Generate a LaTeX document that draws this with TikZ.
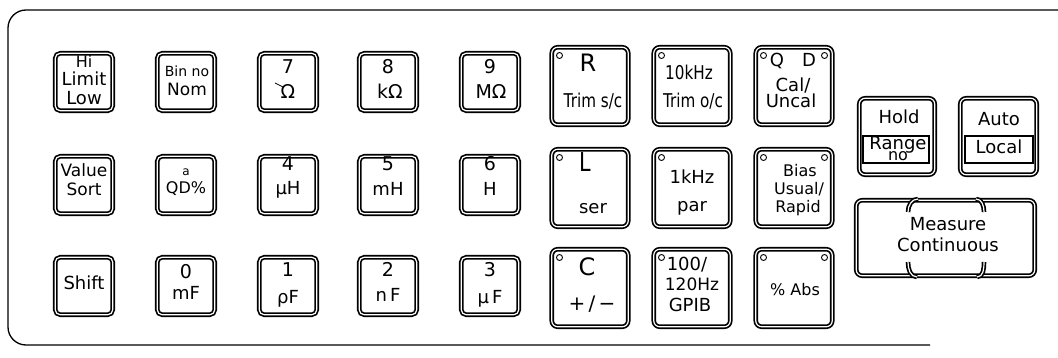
\documentclass[tikz,border=0pt]{standalone}
\usepackage{fontspec}
\usepackage{graphicx}
\setmainfont{DejaVu Sans}
\newcommand{\narrow}[1]{\scalebox{0.8}[1]{#1}}
\tikzset{
  key/.style={draw, double, line width=1.7pt, double distance=1.2pt, rounded corners=5pt, inner sep=0pt},
  smallkey/.style={key, minimum width=57.5pt, minimum height=57.5pt},
  bigkey/.style={key, minimum width=76.5pt, minimum height=77.5pt, rounded corners=6pt},
  lbl/.style={inner sep=0pt, text height=.73em, text depth=0pt, font=\fontsize{#1}{#1}\selectfont},
  lbl/.default=18,
  lamp/.style={line width=0.9pt},
}
\begin{document}
\begin{tikzpicture}[x=1pt,y=-1pt]
  \useasboundingbox (0,0) rectangle (1058,358);
  % panel outline
  \draw [line width=1.3pt, rounded corners=18pt] (1058,10) -- (8,10) -- (8,345) -- (930,345);
  % number block
  \foreach \n/\x/\y in {hi/84/82, bin/186/82, k7/288/82, k8/388/82, k9/490/82,
                        val/84/185, qd/186/185, k4/288/185, k5/388/185, k6/490/185,
                        shift/84/286, k0/186/286, k1/288/286, k2/388/286, k3/490/286}
    \node [smallkey] (\n) at (\x,\y) {};
  % function block
  \foreach \n/\x/\y in {res/590/86, tenk/692/86, cal/794/86,
                        ind/590/188, onek/692/188, bias/794/188,
                        cap/590/288, hund/692/288, abs/794/288}
    \node [bigkey] (\n) at (\x,\y) {};
  \node [bigkey, minimum width=75.5pt, minimum height=76.5pt] (hold) at (897,136.5) {};
  \node [bigkey, minimum width=76.5pt, minimum height=76.5pt] (auto) at (998.5,136.5) {};
  \node [bigkey, minimum width=178.5pt, minimum height=75.5pt] (meas) at (945.5,238) {};
  % lamps
  \foreach \n in {res, tenk, cal, ind, onek, bias, cap, hund, abs}
    \draw [lamp] ([shift={(-30.5pt,30.5pt)}]\n.center) circle (3pt);
  \foreach \n in {cal, bias, abs}
    \draw [lamp] ([shift={(30.5pt,30.5pt)}]\n.center) circle (3pt);
  % labels, row 1
  \node [lbl=16] (hiA) at (84,64) {Hi};
  \node [lbl] (hiB) at (84,82) {Limit};
  \node [lbl] (hiC) at (84,101) {Low};
  \node [lbl=14] (binA) at (187,73) {Bin no};
  \node [lbl=17] (binB) at (187,92) {Nom};
  \node [lbl=19] (k7A) at (288,70) {7};
  \node [lbl=19] (k7B) at (288,95) {Ω};
  \draw [line width=0.8pt] (275,83) -- (283,87);
  \node [lbl=19] (k8A) at (388,70) {8};
  \node [lbl=19] (k8B) at (390,95) {kΩ};
  \node [lbl=19] (k9A) at (490,70) {9};
  \node [lbl=19] (k9B) at (491,95) {MΩ};
  \node [lbl=24] (resA) at (588,68) {R};
  \node [lbl=19] (resB) at (593,104) {\narrow{Trim s/c}};
  \node [lbl=19] (tenkA) at (689,76) {\narrow{10kHz}};
  \node [lbl=19] (tenkB) at (693,104) {\narrow{Trim o/c}};
  \node [lbl] (calQ) at (777,63) {Q};
  \node [lbl] (calD) at (809,63) {D};
  \node [lbl] (calA) at (793,88) {Cal/};
  \node [lbl] (calB) at (791,104) {Uncal};
  % labels, row 2
  \node [lbl=17] (valA) at (84,173) {Value};
  \node [lbl=17] (valB) at (84,192) {Sort};
  \node [lbl=12] (qdA) at (186,172) {a};
  \node [lbl=16] (qdB) at (186,190) {QD\%};
  \node [lbl=19] (k4A) at (288,167) {4};
  \node [lbl] (k4B) at (288,191) {μH};
  \node [lbl=19] (k5A) at (388,167) {5};
  \node [lbl] (k5B) at (388,192) {mH};
  \node [lbl=19] (k6A) at (490,167) {6};
  \node [lbl] (k6B) at (490,192) {H};
  \node [lbl=26] (indA) at (585,168) {\narrow{L}};
  \node [lbl] (indB) at (593,210) {ser};
  \node [lbl] (onekA) at (692,180) {1kHz};
  \node [lbl] (onekB) at (692,208) {par};
  \node [lbl=16] (biasA) at (800,173) {Bias};
  \node [lbl=16] (biasB) at (799,191) {Usual/};
  \node [lbl=16] (biasC) at (798,209) {Rapid};
  % labels, row 3
  \node [lbl] (shiftA) at (84,286) {Shift};
  \node [lbl=19] (k0A) at (186,275) {0};
  \node [lbl] (k0B) at (186,296) {mF};
  \node [lbl=19] (k1A) at (288,273) {1};
  \node [lbl] (k1B) at (288,300) {ρF};
  \node [lbl=19] (k2A) at (388,273) {2};
  \node [lbl] (k2B) at (388,298) {n\,F};
  \node [lbl=19] (k3A) at (490,273) {3};
  \node [lbl] (k3B) at (490,300) {μ\,F};
  \node [lbl=24] (capA) at (587,272) {C};
  \node [lbl=20] (capB) at (592,307) {+\,/\,−};
  \node [lbl] (hundA) at (687,267) {100/};
  \node [lbl=17] (hundB) at (692,287) {120Hz};
  \node [lbl] (hundC) at (690,308) {GPIB};
  \node [lbl=16] (absA) at (795,292) {\% Abs};
  % hold / auto / measure
  \node [lbl] (holdA) at (899,120) {Hold};
  \draw [line width=1.2pt] (863,136) rectangle (929,163);
  \node [lbl] (holdB) at (898,146) {Range};
  \node [lbl=16] (holdC) at (898,157) {no};
  \node [lbl] (autoA) at (999,122) {Auto};
  \draw [line width=1.2pt] (965,136) rectangle (1033,163);
  \node [lbl] (autoB) at (999,150) {Local};
  \draw [key] (908,212) to[out=90,in=180] (918,199);
  \draw [key] (984,212) to[out=90,in=0] (976,199);
  \draw [key] (908,262) to[out=-90,in=180] (917,277);
  \draw [key] (984,262) to[out=-90,in=0] (977,277);
  \node [lbl] (measA) at (948,227) {Measure};
  \node [lbl] (measB) at (948,248) {Continuous};
\end{tikzpicture}
\end{document}
